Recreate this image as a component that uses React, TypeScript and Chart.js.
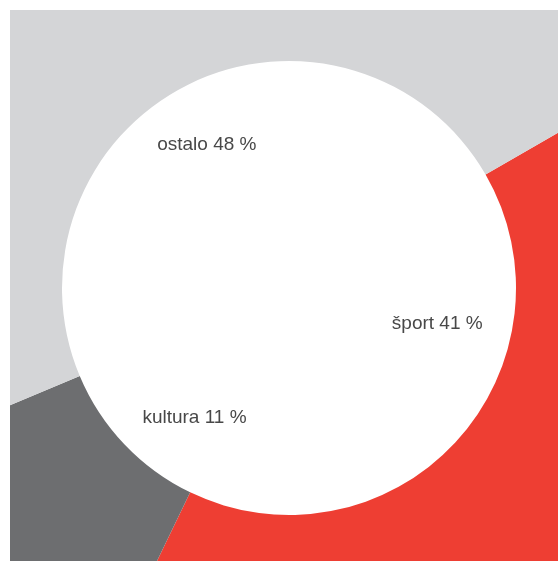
import React, { useEffect, useRef } from "react";
import { Chart, registerables } from "chart.js";

Chart.register(...registerables);

const categories = ["šport", "kultura", "ostalo"];
// percentages as printed on the labels
const labelPercents = [41, 11, 48];
// slice sizes as drawn in the picture
const sliceValues = [40.5, 11.5, 48];
const colors = ["#ee3e33", "#6d6e70", "#d4d5d7"];

// label placement relative to each slice: angle shift (deg) and radius as fraction of inner radius
const labelAngleShift = [-30, -10, -3.1];
const labelRadiusFrac = [0.67, 0.7, 0.735];

const labelPlugin = {
  id: "sliceLabels",
  afterDatasetsDraw(chart: any) {
    const ctx = chart.ctx;
    const meta = chart.getDatasetMeta(0);
    ctx.save();
    ctx.font = "300 19px 'Liberation Sans', Arial, sans-serif";
    ctx.fillStyle = "#484848";
    ctx.textAlign = "center";
    ctx.textBaseline = "middle";
    meta.data.forEach((arc: any, i: number) => {
      const { x, y, startAngle, endAngle, innerRadius } = arc.getProps(
        ["x", "y", "startAngle", "endAngle", "innerRadius"],
        true
      );
      const mid = (startAngle + endAngle) / 2 + (labelAngleShift[i] * Math.PI) / 180;
      const r = innerRadius * labelRadiusFrac[i];
      ctx.fillText(
        `${categories[i]} ${labelPercents[i]} %`,
        x + Math.cos(mid) * r,
        y + Math.sin(mid) * r + 2
      );
    });
    ctx.restore();
  },
};

export default function App() {
  const ref = useRef<HTMLCanvasElement>(null);
  useEffect(() => {
    if (!ref.current) return;
    const chart = new Chart(ref.current, {
      type: "doughnut",
      data: {
        labels: categories,
        datasets: [
          {
            data: sliceValues,
            backgroundColor: colors,
            borderWidth: 0,
          },
        ],
      },
      options: {
        responsive: false,
        animation: false,
        rotation: 60,
        radius: 400,
        cutout: "56.75%",
        layout: { padding: { left: 10, top: 5, right: 0, bottom: 0 } },
        plugins: {
          legend: { display: false },
          tooltip: { enabled: false },
        },
      },
      plugins: [labelPlugin],
    });
    return () => chart.destroy();
  }, []);
  return (
    <div
      style={{
        position: "absolute",
        left: 10,
        top: 10,
        width: 548,
        height: 551,
        overflow: "hidden",
        background: "#ffffff",
      }}
    >
      <canvas ref={ref} width={548} height={551} style={{ display: "block" }} />
    </div>
  );
}
